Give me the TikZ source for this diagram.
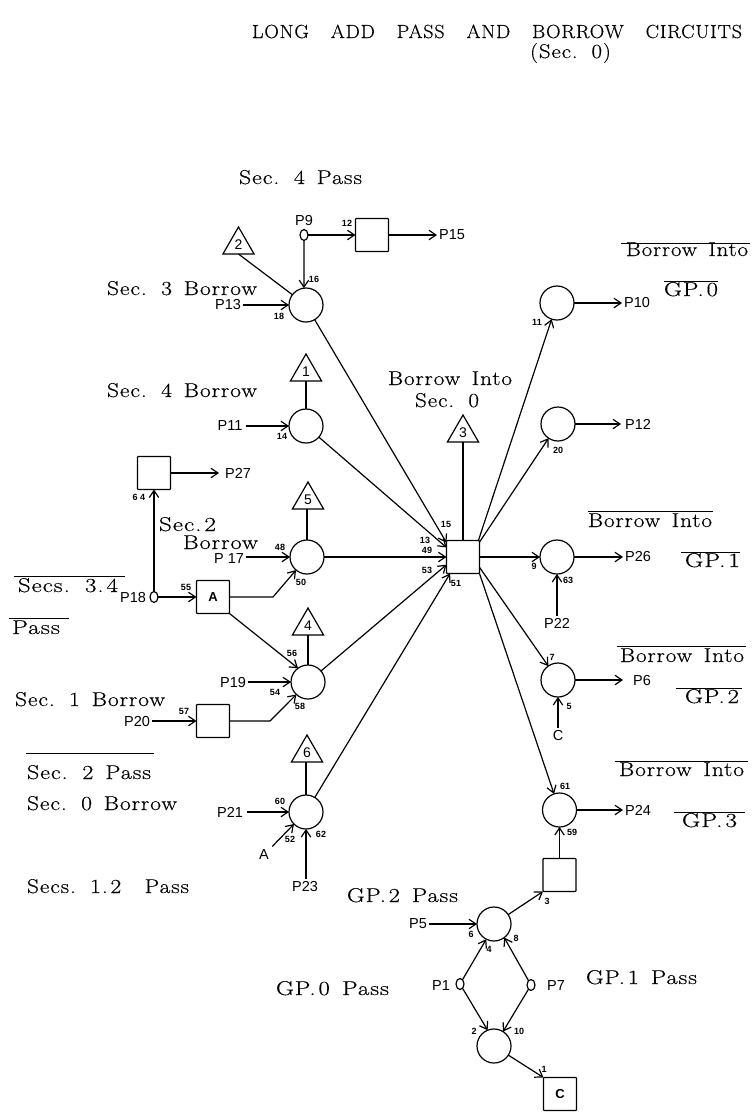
\documentclass[tikz,border=0pt]{standalone}
\usepackage{fontspec}
\usepackage{graphicx}
\usetikzlibrary{arrows.meta,shapes.geometric}
\setsansfont{Liberation Sans}
\newfontfamily\serL[LetterSpace=4,FakeBold=0.35]{Latin Modern Roman}
\newcommand{\TT}[2]{\resizebox{#1pt}{\height}{\fontsize{20}{22}\serL\spaceskip=0.5em\relax #2}}
\newcommand{\ns}{\hspace{.12em}}
\tikzset{
  >={Straight Barb[length=7pt,width=9.5pt]},
  every path/.style={line width=1.2pt,black},
  gate/.style={draw,circle,minimum size=34pt,inner sep=0pt,outer sep=0pt},
  box/.style={draw,rectangle,rounded corners=0.8pt,minimum size=33pt,inner sep=0pt,outer sep=0pt,font=\sffamily\bfseries\fontsize{13}{14}\selectfont},
  tri/.style={draw,regular polygon,regular polygon sides=3,minimum size=36pt,inner sep=0pt,outer sep=0pt,font=\sffamily\fontsize{14}{15}\selectfont},
  pin/.style={draw,ellipse,minimum width=8pt,minimum height=11pt,inner sep=0pt,outer sep=0pt},
  sig/.style={font=\sffamily\fontsize{14.5}{15}\selectfont,inner sep=1.5pt},
  num/.style={font=\sffamily\bfseries\fontsize{9}{10}\selectfont,inner sep=0pt},
  ser/.style={anchor=base,inner sep=0pt},
  bar/.style={line width=0.9pt}
}
\begin{document}
\begin{tikzpicture}[x=1pt,y=-1pt]
\useasboundingbox (0,0) rectangle (753,1114);
% gates
\node[gate] (c1) at (306,305) {};
\node[gate] (c2) at (306,426) {};
\node[gate] (c3) at (307,557) {};
\node[gate] (c4) at (308,682) {};
\node[gate] (c5) at (306,812) {};
\node[gate] (r1) at (557,303) {};
\node[gate] (r2) at (558,424) {};
\node[gate] (r3) at (557,557) {};
\node[gate] (r4) at (558,680) {};
\node[gate] (r5) at (559.5,810) {};
\node[gate] (cg) at (494,924) {};
\node[gate] (cl) at (494,1046) {};
% boxes
\node[box] (sT) at (372,235) {};
\node[box] (s64) at (154,473) {};
\node[box] (sA) at (213,597) {A};
\node[box] (s57) at (213,721) {};
\node[box] (ctr) at (463,557) {};
\node[box] (sB) at (559.5,875) {};
\node[box] (sC) at (560,1094) {C};
% triangles
\node[tri] (t2) at (238.5,245) {2};
\node[tri] (t1) at (306,372) {1};
\node[tri] (t3) at (463,433) {3};
\node[tri] (t5) at (308,500) {5};
\node[tri] (t4) at (308,626) {4};
\node[tri] (t6) at (307,753) {6};
% pins
\node[pin] (p9) at (304,235) {};
\node[pin] (p18) at (154,597) {};
\node[pin] (p1) at (460,984) {};
\node[pin] (p7) at (531,985) {};
% signal labels
\node[sig] (P9) at (304,221) {P9};
\node[sig] (P15) at (452,235) {P15};
\node[sig] (P13) at (228,305) {P13};
\node[sig] (P11) at (230,426) {P11};
\node[sig] (P27) at (238,473) {P27};
\node[sig] (P17) at (229,559) {P 17};
\node[sig] (P18) at (133,597) {P18};
\node[sig] (P19) at (233,682) {P19};
\node[sig] (P20) at (137,721) {P20};
\node[sig] (P21) at (230,812) {P21};
\node[sig] (Aa) at (264,855) {A};
\node[sig] (P23) at (305,886) {P23};
\node[sig] (P10) at (637,303) {P10};
\node[sig] (P12) at (638,424) {P12};
\node[sig] (P26) at (638,557) {P26};
\node[sig] (P22) at (557,623) {P22};
\node[sig] (P6) at (642,680) {P6};
\node[sig] (Cc) at (558,735) {C};
\node[sig] (P24) at (638,810) {P24};
\node[sig] (P5) at (418,924) {P5};
\node[sig] (P1) at (441,985) {P1};
\node[sig] (P7) at (556,985) {P7};
% bends
\coordinate (b1) at (273,597);
\coordinate (b2) at (270,721);
% connectors
\draw[->] (p9) -- (sT);
\draw[->] (sT.east) -- (P15.west);
\draw[->] (p9) -- (c1.97);
\draw (t2.south) -- (c1);
\draw[->] (P13) -- (c1);
\draw (t1.south) -- (c2);
\draw[->,shorten <=2pt] (P11) -- (c2);
\draw[->,shorten >=4pt] (s64.east) -- (P27.west);
\draw[->] (p18) -- (s64);
\draw[->] (p18) -- (sA.west);
\draw (t5.south -| c3) -- (c3);
\draw[->] (P17.east |- c3) -- (c3);
\draw[->] (sA.east) -- (b1) -- (c3.230);
\draw[->] (sA.south east) -- (c4.126);
\draw (t4.south) -- (c4);
\draw[->] (P19) -- (c4);
\draw[->] (P20) -- (s57.west);
\draw[->] (s57.east) -- (b2) -- (c4.227);
\draw (t6.south -| c5) -- (c5);
\draw[->,shorten <=2pt] (P21) -- (c5);
\draw[->,shorten <=2pt] (Aa) -- (c5.225);
\draw[->] (c5 |- P23.north) -- (c5);
\draw[->] (c1) -- (ctr.139);
\draw[->] (c2) -- (ctr.150);
\draw[->] (c3) -- (ctr.west);
\draw[->] (c4) -- (ctr.205);
\draw[->] (c5) -- (ctr.232);
\draw (t3.south) -- (ctr.north);
\draw[->] (ctr.47) -- (r1);
\draw[->] (ctr.42) -- (r2);
\draw[->] (ctr.east) -- (r3);
\draw[->] (ctr.-32) -- (r4);
\draw[->] (ctr.-45) -- (r5);
\draw[->] (r1) -- (P10.west);
\draw[->,shorten >=2pt] (r2) -- (P12.west);
\draw[->] (r3) -- (P26.west);
\draw[->] (P22) -- (r3);
\draw[->,shorten >=8pt] (r4) -- (P6.west);
\draw[->] (Cc) -- (r4);
\draw[->] (r5) -- (P24.west);
\draw[->] (sB.north) -- (r5);
\draw[->] (cg) -- (sB.south west);
\draw[->] (P5) -- (cg);
\draw[->] (p1) -- (cg.243);
\draw[->] (p7) -- (cg.307);
\draw[->] (p1) -- (cl.112);
\draw[->] (p7) -- (cl.58);
\draw[->] (cl) -- (sC.north west);
% pin numbers
\foreach \t/\x/\y [count=\i] in {12/347/223,16/314/279,18/279/316,14/282/436,6 4/139/497,55/186/587,48/280/547,50/301/582,56/292/653,54/275/692,58/300/706,57/184/711,60/280/801,52/290/839,62/321/834,15/446/524,13/425/540,49/427/550,53/427/570,51/456/583,11/537/322,20/558/450,9/534/566,63/568/580,7/552/657,5/569/706,61/565/786,59/572/832,3/547/901,6/471/934,4/489/949,8/516/938,2/474/1031,10/519/1031,1/544/1069}
  \node[num] (n\i) at (\x,\y) {\t};
% serif labels
\node[ser] (l1) at (497,38) {\resizebox{490pt}{\height}{\fontsize{19}{22}\serL LONG\hspace{.75em} ADD\hspace{.75em} PASS\hspace{.75em} AND\hspace{.75em} BORROW\hspace{.75em} CIRCUITS}};
\node[ser] (l2) at (570.5,58) {\TT{81}{(Sec. 0)}};
\node[ser] (l3) at (300.5,184) {\TT{123}{Sec. 4 Pass}};
\node[ser] (l4) at (182,295) {\TT{150}{Sec. 3 Borrow}};
\node[ser] (l5) at (182,397) {\TT{150}{Sec. 4 Borrow}};
\node[ser] (l6) at (450,385) {\TT{124}{Borrow Into}};
\node[ser] (l7) at (447,407) {\TT{64}{Sec. 0}};
\node[ser] (l8) at (687,256) {\TT{122}{Borrow Into}};
\node[ser] (l9) at (691,296) {\TT{54}{GP.\ns 0}};
\node[ser] (l10) at (650,527) {\TT{124}{Borrow Into}};
\node[ser] (l11) at (712.5,567) {\TT{55}{GP.\ns 1}};
\node[ser] (l12) at (682,662) {\TT{124}{Borrow Into}};
\node[ser] (l13) at (712,703) {\TT{54}{GP.\ns 2}};
\node[ser] (l14) at (681.5,776) {\TT{125}{Borrow Into}};
\node[ser] (l15) at (709.5,827) {\TT{55}{GP.\ns 3}};
\node[ser] (l16) at (402.5,902) {\TT{111}{GP.\ns 2 Pass}};
\node[ser] (l17) at (641.5,984) {\TT{111}{GP.\ns 1 Pass}};
\node[ser] (l18) at (332.5,995) {\TT{113}{GP.\ns 0 Pass}};
\node[ser] (l19) at (187.5,531) {\TT{57}{Sec.\ns 2}};
\node[ser] (l20) at (220.5,549) {\TT{75}{Borrow}};
\node[ser] (l21) at (68,592) {\TT{100}{Secs. 3.\ns 4}};
\node[ser] (l22) at (36,634) {\TT{48}{Pass}};
\node[ser] (l23) at (90,706) {\TT{150}{Sec. 1 Borrow}};
\node[ser] (l24) at (89,779) {\TT{124}{Sec. 2 Pass}};
\node[ser] (l25) at (102,810) {\TT{150}{Sec. 0 Borrow}};
\node[ser] (l26) at (108,893) {\TT{162}{Secs. 1.\ns 2\hspace{.5em} Pass}};
% overbars
\draw[bar] (621,243) -- (750,243);
\draw[bar] (664,281) -- (718,281);
\draw[bar] (588,511) -- (713,511);
\draw[bar] (681,552) -- (740,552);
\draw[bar] (617,646) -- (746,646);
\draw[bar] (676,688) -- (742,688);
\draw[bar] (615,761) -- (748,761);
\draw[bar] (674,812) -- (745,812);
\draw[bar] (14,576) -- (125,576);
\draw[bar] (9,618) -- (69,618);
\draw[bar] (26,753) -- (154,753);
\end{tikzpicture}
\end{document}
